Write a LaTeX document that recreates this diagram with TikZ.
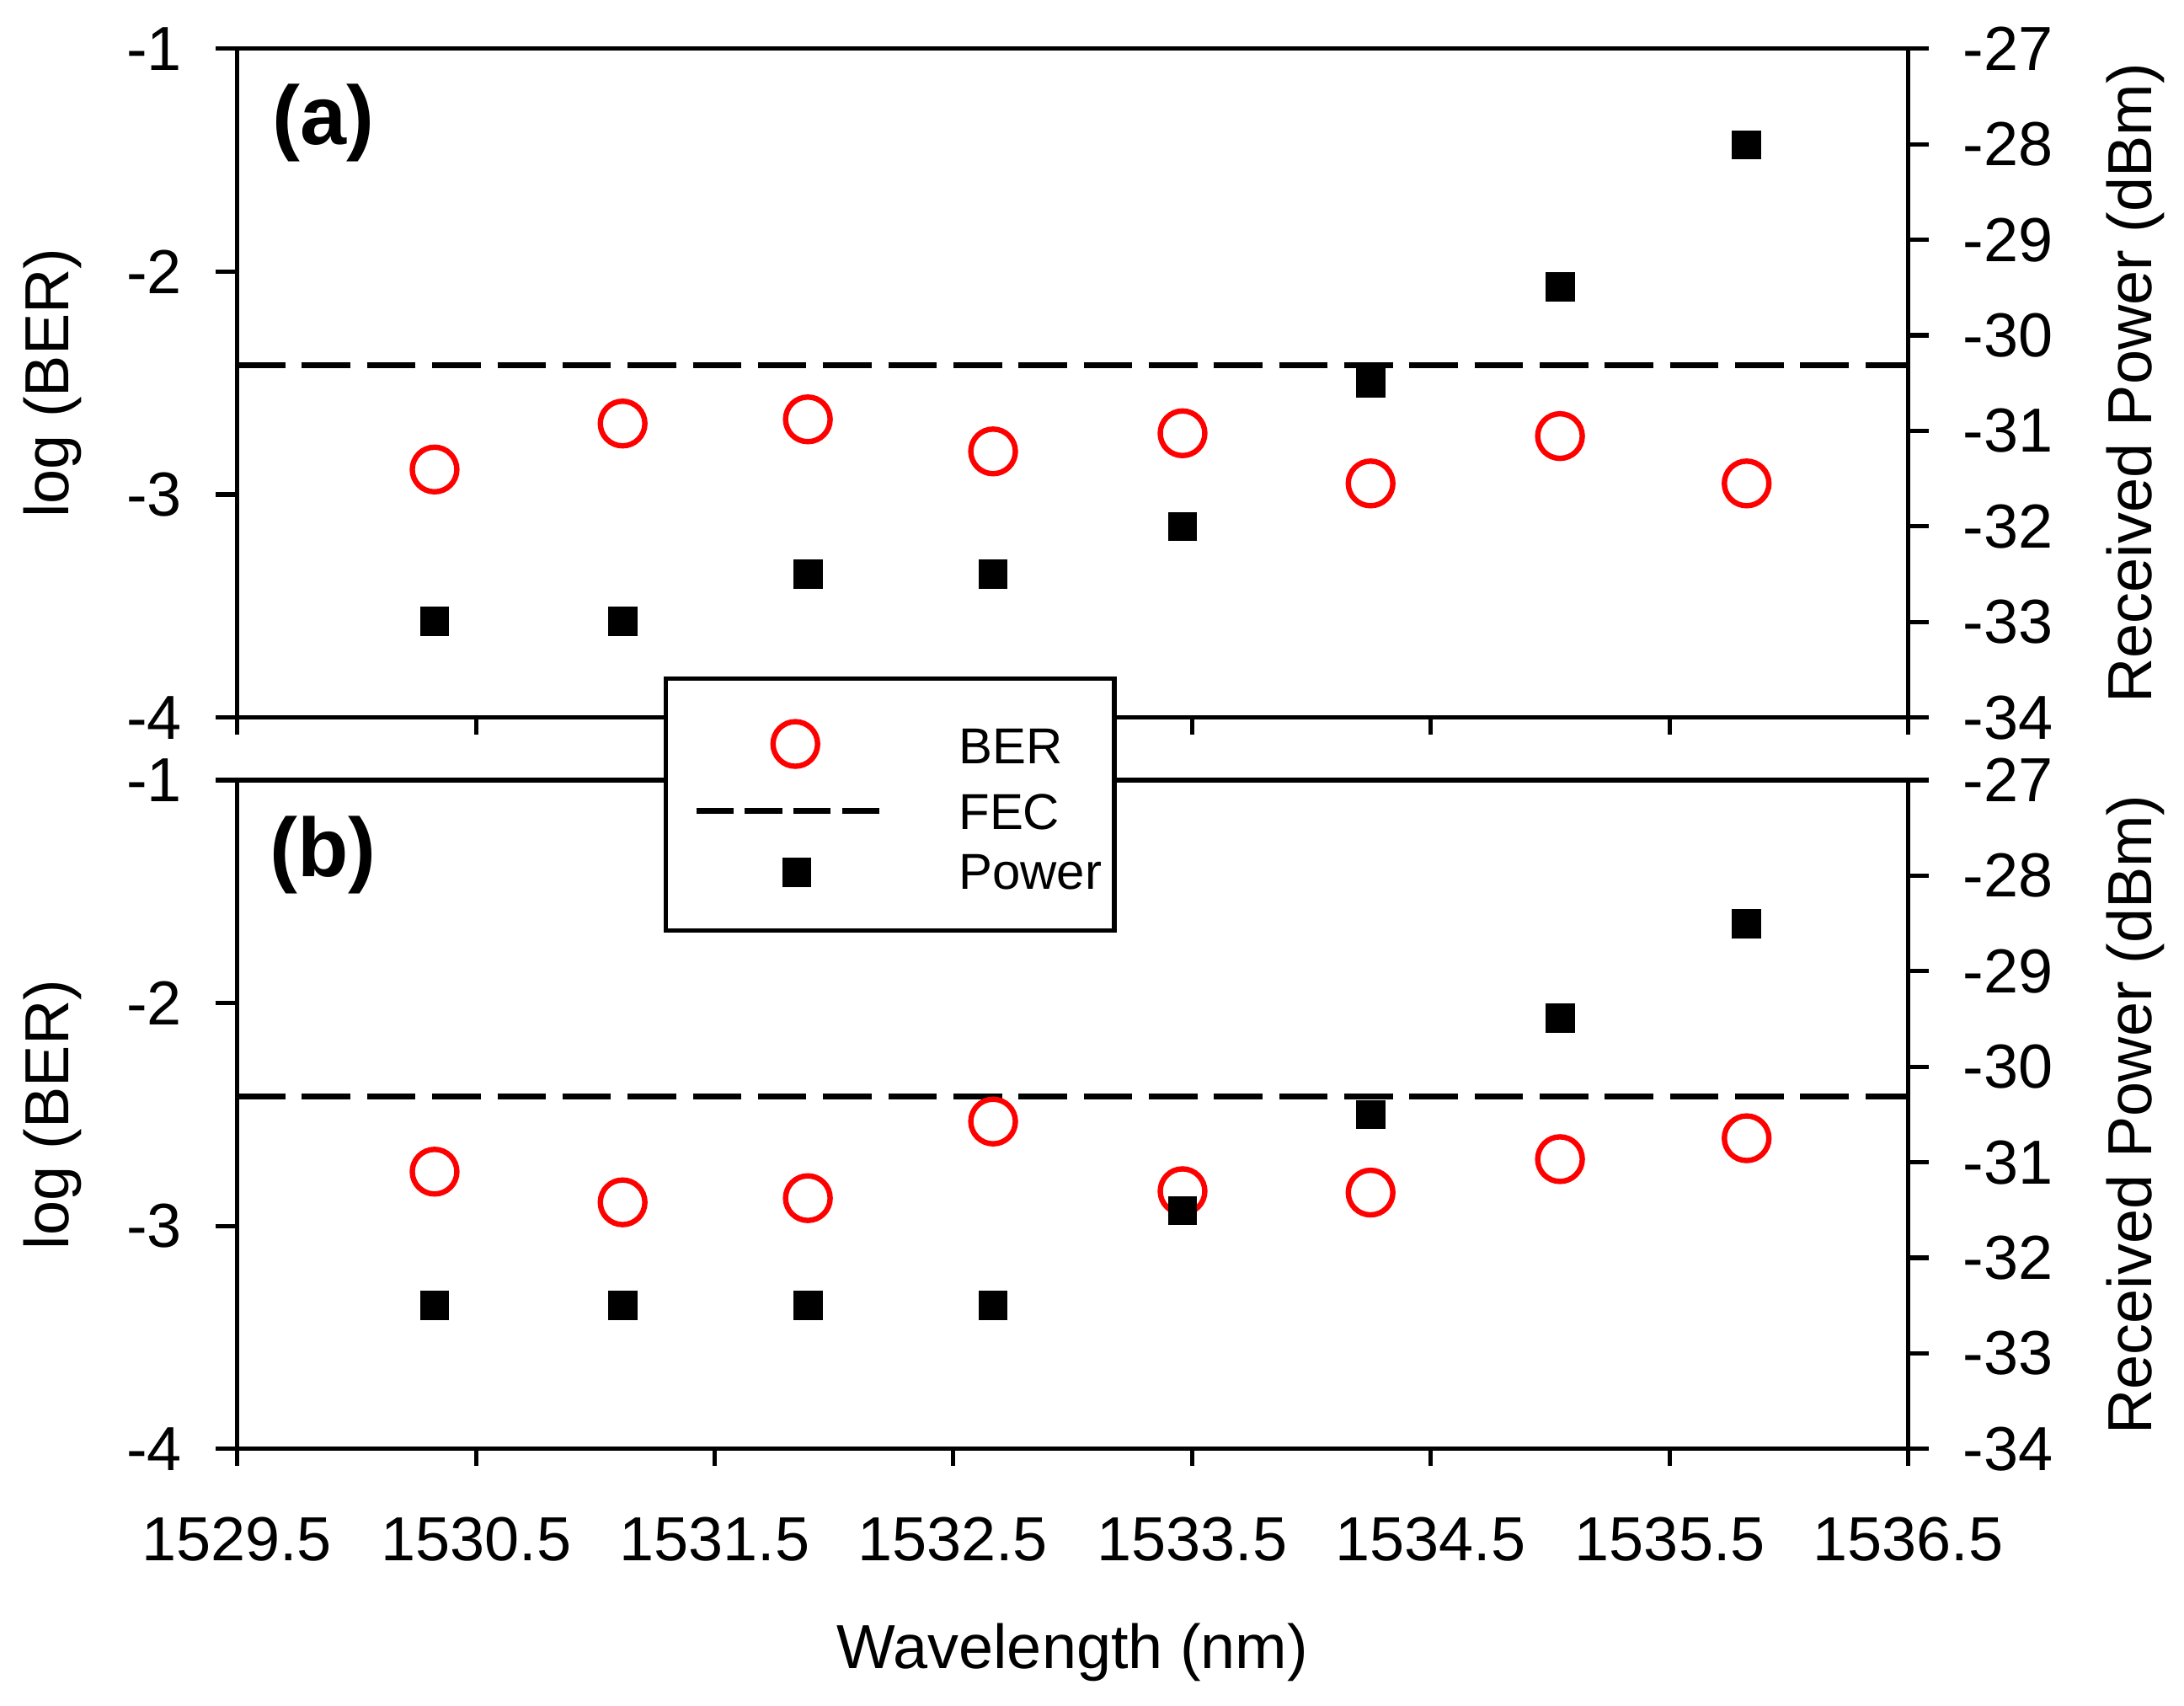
\documentclass[tikz,border=0pt]{standalone}
\usepackage{fontspec}
\setmainfont{Liberation Sans}
\begin{document}
\begin{tikzpicture}[x=0.01cm,y=-0.01cm,
  ax/.style={line width=0.9pt},
  tk/.style={font=\fontsize{12.7}{14}\selectfont},
  lab/.style={font=\fontsize{12.7}{14}\selectfont},
  lgt/.style={font=\fontsize{10.3}{12}\selectfont,anchor=west},
  bermark/.style={circle,draw=red,line width=1.1pt,minimum size=0.32cm,inner sep=0pt},
  powmark/.style={rectangle,fill=black,minimum size=0.21cm,inner sep=0pt},
  fec/.style={line width=1.2pt,dash pattern=on 9.9pt off 3.4pt}]
\useasboundingbox (0,0) rectangle (1568,1224);
% panels
\foreach \t/\b in {35/515,560/1040}{
  \draw[ax] (155,\t) -- (1385,\t);
  \draw[ax] (155,\b) -- (1385,\b);
  \draw[ax] (170,\t) -- (170,\b+12);
  \draw[ax] (1370,\t) -- (1370,\b+12);
  \foreach \i in {1,2,3}{\draw[ax] (155,\t+\i*160) -- (170,\t+\i*160);}
  \foreach \i in {1,...,6}{\draw[ax] (1370,\t+\i*68.571) -- (1385,\t+\i*68.571);}
  \foreach \xx in {342,513,684,856,1027,1199}{\draw[ax] (\xx,\b) -- (\xx,\b+12);}
  \foreach \i/\v in {0/-1,1/-2,2/-3,3/-4}{\node[tk,anchor=east] (l\t\i) at (143,\t+\i*160) {\v};}
  \foreach \i in {0,...,7}{\pgfmathtruncatemacro{\vv}{-27-\i}\node[tk,anchor=west] (r\t\i) at (1397,\t+\i*68.571) {\vv};}
  \node[lab,rotate=90] (yl\t) at (38,\t+240) {log (BER)};
  \node[lab,rotate=90] (yr\t) at (1533,\t+240) {Received Power (dBm)};
}
\draw[fec] (170,262) -- (1370,262);
\draw[fec] (170,787) -- (1370,787);
\node[font=\fontsize{17}{20}\selectfont\bfseries] (pa) at (232,88) {(a)};
\node[font=\fontsize{17}{20}\selectfont\bfseries] (pb) at (232,614) {(b)};
% x tick labels
\foreach \xx/\v in {170/1529.5,342/1530.5,513/1531.5,684/1532.5,856/1533.5,1027/1534.5,1199/1535.5,1370/1536.5}{
  \node[tk] (x\xx) at (\xx,1105) {\v};}
\node[lab] (xl) at (770,1186) {Wavelength (nm)};
% data
\foreach \xx/\yb/\yp [count=\k] in {312/337/446,447/304/446,580/301/412,713/324/412,849/311/378,984/347/275,1120/313/206,1254/347/104}{
  \node[bermark] (ba\k) at (\xx,\yb) {};
  \node[powmark] (pa\k) at (\xx,\yp) {};}
\foreach \xx/\yb/\yp [count=\k] in {312/841/937,447/863/937,580/860/937,713/805/937,849/855/869,984/856/800,1120/832/731,1254/817/663}{
  \node[bermark] (bb\k) at (\xx,\yb) {};
  \node[powmark] (pb\k) at (\xx,\yp) {};}
% legend
\draw[ax,fill=white] (478,487) rectangle (800,668);
\node[bermark] (lgb) at (571,534) {};
\draw[line width=1.2pt,dash pattern=on 7.6pt off 2.3pt] (500,582) -- (632,582);
\node[powmark] (lgp) at (572,626) {};
\node[lgt] (lt1) at (676,536) {BER};
\node[lgt] (lt2) at (676,583) {FEC};
\node[lgt] (lt3) at (676,626) {Power};
\end{tikzpicture}
\end{document}
